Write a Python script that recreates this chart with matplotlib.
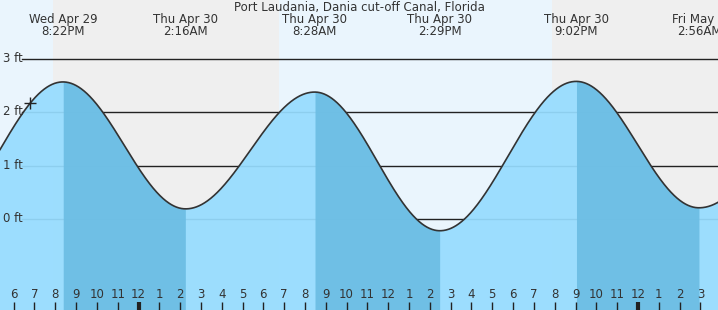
import numpy as np
import matplotlib
matplotlib.use('Agg')
import matplotlib.pyplot as plt

# hours relative to Thu Apr 30 00:00
ext_hours = [-9.8, -3.633, 2.267, 8.467, 14.483, 21.033, 26.933, 33.5]
ext_feet = [-0.05, 2.57, 0.19, 2.38, -0.22, 2.58, 0.21, 2.4]
ext_labels = ['', 'Wed Apr 29\n8:22PM', 'Thu Apr 30\n2:16AM', 'Thu Apr 30\n8:28AM',
              'Thu Apr 30\n2:29PM', 'Thu Apr 30\n9:02PM', 'Fri May 1\n2:56AM', '']
night_spans = [(-4.1, 6.76), (19.87, 30.0)]
hour_ticks = list(range(-6, 28))
now_hour = -5.2
y_levels = [0, 1, 2, 3]
title = 'Port Laudania, Dania cut-off Canal, Florida'

def tide(t):
    out = np.zeros_like(t)
    for i in range(len(ext_hours) - 1):
        t0, t1 = ext_hours[i], ext_hours[i + 1]
        h0, h1 = ext_feet[i], ext_feet[i + 1]
        m = (t >= t0) & (t <= t1)
        f = (t[m] - t0) / (t1 - t0)
        out[m] = h0 + (h1 - h0) * (1 - np.cos(np.pi * f)) / 2
    return out

px_hr = 20.81
x0 = -138.5 / px_hr
x1 = (718 - 138.5) / px_hr
ppf = 160 / 3
ytop = 219 / ppf
ybot = -91 / ppf

fig = plt.figure(figsize=(7.18, 3.10), dpi=100)
ax = fig.add_axes([0, 0, 1, 1])
ax.set_xlim(x0, x1)
ax.set_ylim(ybot, ytop)
ax.axis('off')
ax.add_patch(plt.Rectangle((x0, ybot), x1 - x0, ytop - ybot, color='#eaf5fd', zorder=0))
for a, b in night_spans:
    ax.axvspan(a, b, color='#efefef', zorder=0.5, lw=0)

xline0 = x0 + 22 / px_hr
for lv in y_levels:
    ax.plot([xline0, x1], [lv, lv], color='#222222', lw=1, zorder=1)
    ax.text(x0 + 3 / px_hr, lv + 0.5 / ppf, f'{lv} ft', fontsize=8.5, color='#333333',
            ha='left', va='center', zorder=5)

t = np.linspace(x0, x1, 2000)
h = tide(t)
ax.fill_between(t, ybot, h, color='#96dcff', alpha=0.93, lw=0, zorder=2)
for i in range(len(ext_hours) - 1):
    if ext_feet[i] > ext_feet[i + 1]:
        m = (t >= ext_hours[i]) & (t <= ext_hours[i + 1])
        ax.fill_between(t[m], ybot, h[m], color='#6cbde4', alpha=0.93, lw=0, zorder=2.1)
ax.plot(t, h, color='#333333', lw=1.2, zorder=3)

ax.plot([now_hour], tide(np.array([now_hour])), marker='+', color='#222222',
        ms=9, mew=1, zorder=4)

for hr in hour_ticks:
    lab = (hr % 12) or 12
    thick = hr % 24 == 0
    ax.plot([hr, hr], [ybot, ybot + 8 / ppf], color='#222222',
            lw=3 if thick else 1, solid_capstyle='butt', zorder=4)
    ax.text(hr, ybot + 15 / ppf, str(lab), fontsize=8.5, color='#333333',
            ha='center', va='center', zorder=5)

for hr, lab in zip(ext_hours, ext_labels):
    if lab:
        ax.text(hr, ytop - 25.5 / ppf, lab, fontsize=8.5, color='#333333', ha='center',
                va='center', linespacing=0.95, zorder=5)
ax.text((x0 + x1) / 2, ytop - 7 / ppf, title, fontsize=8.5, color='#333333',
        ha='center', va='center', zorder=5)

fig.savefig('out.png', dpi=100)
